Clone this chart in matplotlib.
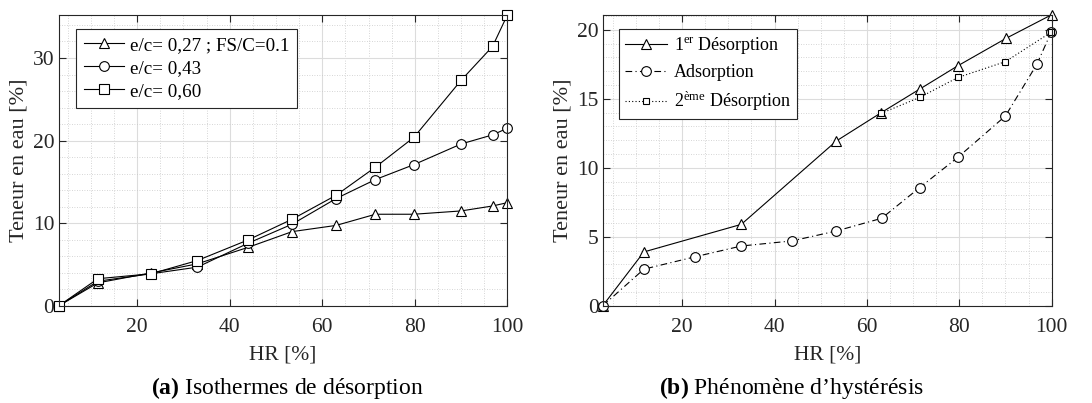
import matplotlib
matplotlib.use("Agg")
import matplotlib.pyplot as plt
from matplotlib.ticker import MultipleLocator

plt.rcParams['font.family'] = ['Liberation Serif', 'DejaVu Serif']
plt.rcParams['mathtext.fontset'] = 'custom'
plt.rcParams['mathtext.rm'] = 'Liberation Serif'
plt.rcParams['mathtext.bf'] = 'Liberation Serif:bold'
plt.rcParams['mathtext.it'] = 'Liberation Serif:italic'

# (a) isothermes de desorption
hr_a = [3, 11.5, 23, 33, 44, 53.5, 63, 71.5, 79.8, 90, 96.8, 100]
ec027 = [0, 2.8, 4.0, 5.1, 7.1, 9.0, 9.75, 11.1, 11.1, 11.5, 12.1, 12.5]
ec043 = [0, 3.0, 3.9, 4.7, 7.6, 9.9, 13.0, 15.3, 17.1, 19.6, 20.7, 21.5]
ec060 = [0, 3.3, 3.9, 5.5, 8.0, 10.5, 13.4, 16.8, 20.4, 27.3, 31.4, 35.2]
labels_a = ["e/c= 0,27 ; FS/C=0.1", "e/c= 0,43", "e/c= 0,60"]

# (b) hysteresis
hr_des1 = [2.8, 11.7, 32.8, 53.4, 63.1, 71.4, 79.7, 90.2, 100]
des1 = [0, 3.9, 5.9, 11.95, 14.0, 15.7, 17.4, 19.4, 21.1]
hr_ads = [2.8, 11.7, 22.8, 32.8, 43.8, 53.4, 63.2, 71.4, 79.7, 90, 96.8, 99.9]
ads = [0, 2.65, 3.55, 4.33, 4.7, 5.42, 6.34, 8.56, 10.76, 13.76, 17.5, 19.83]
hr_des2 = [63.1, 71.4, 79.7, 90, 99.9]
des2 = [13.95, 15.1, 16.55, 17.7, 19.83]
labels_b = [r"1$^{\mathrm{er}}$ Désorption", "Adsorption", r"2$^{\mathrm{ème}}$ Désorption"]

fig = plt.figure(figsize=(10.92, 4.03), dpi=100)
ax1 = fig.add_axes([0.0536, 0.2407, 0.411, 0.722])
ax2 = fig.add_axes([0.552, 0.2414, 0.411, 0.722])


def style(ax, ymin, ymax, ymaj, ymin_step):
    ax.xaxis.set_major_locator(MultipleLocator(20))
    ax.xaxis.set_minor_locator(MultipleLocator(5))
    ax.yaxis.set_major_locator(MultipleLocator(ymaj))
    ax.yaxis.set_minor_locator(MultipleLocator(ymin_step))
    ax.set_ylim(ymin, ymax)
    ax.grid(which='major', color='#dcdcdc', linewidth=0.8, linestyle='-')
    ax.grid(which='minor', color='#c8c8c8', linewidth=0.6, linestyle=(0, (1, 2)))
    ax.set_axisbelow(True)
    ax.tick_params(which='both', direction='in', top=True, right=True,
                   labelsize=15.5, colors='#262626', labelcolor='#262626')
    ax.tick_params(which='major', length=5)
    ax.tick_params(axis='x', which='major', pad=9)
    ax.tick_params(axis='y', which='major', pad=3)
    ax.tick_params(which='minor', length=0)
    for s in ax.spines.values():
        s.set_color('#262626')
        s.set_linewidth(0.8)
    ax.set_xlabel("HR [%]", fontsize=15.5, color='#262626', labelpad=6)
    ax.set_ylabel("Teneur en eau [%]", fontsize=16, color='#262626', labelpad=3)


mk = dict(color='black', linewidth=0.8, markerfacecolor='white',
          markeredgecolor='black', markeredgewidth=0.8, clip_on=False)
ax1.plot(hr_a, ec027, marker='^', markersize=7, label=labels_a[0], **mk)
ax1.plot(hr_a, ec043, marker='o', markersize=7, label=labels_a[1], **mk)
ax1.plot(hr_a, ec060, marker='s', markersize=6.5, label=labels_a[2], **mk)
ax1.set_xlim(hr_a[0], hr_a[-1])
style(ax1, 0, max(ec060), 10, 2)
leg = ax1.legend(loc='upper left', bbox_to_anchor=(0.04, 0.952), borderaxespad=0,
                 fontsize=13.7, handlelength=2.1, fancybox=False, framealpha=1,
                 edgecolor='#262626', labelspacing=0.3, borderpad=0.4,
                 handletextpad=0.3)
leg.get_frame().set_linewidth(0.8)

ax2.plot(hr_des1, des1, marker='^', markersize=7, linestyle='-', label=labels_b[0], **mk)
ax2.plot(hr_ads, ads, marker='o', markersize=7, linestyle=(0, (6, 3, 1, 3)), label=labels_b[1], **mk)
ax2.plot(hr_des2, des2, marker='s', markersize=4.5, linestyle=(0, (1, 2)), label=labels_b[2], **mk)
ax2.set_xlim(hr_des1[0], hr_des1[-1])
style(ax2, 0, max(des1), 5, 1)
leg = ax2.legend(loc='upper left', bbox_to_anchor=(0.036, 0.951), borderaxespad=0,
                 fontsize=13, handlelength=2.3, fancybox=False, framealpha=1,
                 edgecolor='#262626', labelspacing=0.45, borderpad=0.35,
                 handletextpad=0.4)
leg.get_frame().set_linewidth(0.8)

fig.text(287 / 1092, 1 - 388 / 403, r"$\mathbf{(a)}$ Isothermes de désorption",
         ha='center', va='center', fontsize=17)
fig.text(791 / 1092, 1 - 388 / 403, r"$\mathbf{(b)}$ Phénomène d’hystérésis",
         ha='center', va='center', fontsize=17)

fig.savefig("out.png", dpi=100)
